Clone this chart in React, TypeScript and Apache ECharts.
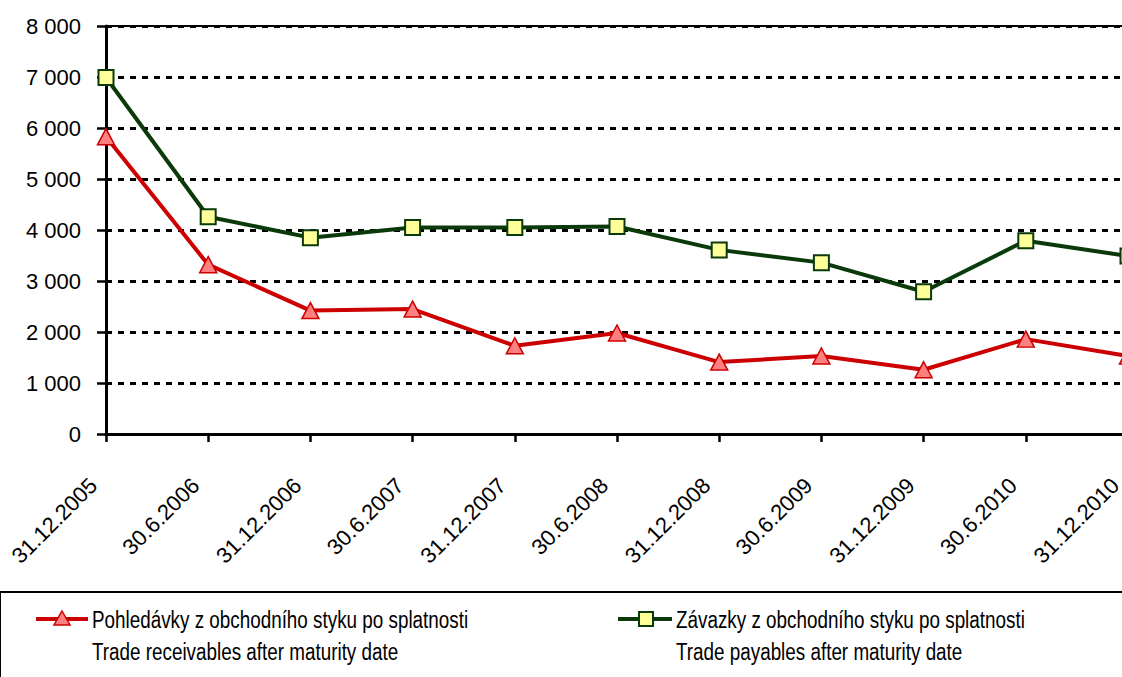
import React, { useEffect, useRef } from "react";
import * as echarts from "echarts";

const categories = [
  "31.12.2005", "30.6.2006", "31.12.2006", "30.6.2007", "31.12.2007", "30.6.2008",
  "31.12.2008", "30.6.2009", "31.12.2009", "30.6.2010", "31.12.2010",
];
const receivables = [5830, 3320, 2420, 2450, 1730, 1980, 1410, 1530, 1260, 1860, 1530];
const payables = [6990, 4260, 3850, 4050, 4050, 4070, 3610, 3360, 2790, 3790, 3490];
const receivablesName = ["Pohledávky z obchodního styku po splatnosti", "Trade receivables after maturity date"];
const payablesName = ["Závazky z obchodního styku po splatnosti", "Trade payables after maturity date"];

const FONT = "'Liberation Sans', Arial, sans-serif";
const RED = "#CC0000";
const GREEN = "#0A3A0A";

const fmt = (v: number) => {
  const s = String(Math.round(v));
  return s.replace(/\B(?=(\d{3})+(?!\d))/g, " ");
};

const legendText = (text: string, x: number, y: number) => ({
  type: "text",
  x,
  y,
  scaleX: 0.82,
  style: { text, font: `23px ${FONT}`, fill: "#000", verticalAlign: "middle" },
});

export default function App() {
  const ref = useRef<HTMLDivElement>(null);
  useEffect(() => {
    if (!ref.current) return;
    document.body.style.overflow = "hidden";
    document.documentElement.style.overflow = "hidden";
    const chart = echarts.init(ref.current, null, { renderer: "svg" });
    chart.setOption({
      animation: false,
      backgroundColor: "#fff",
      grid: { left: 106, top: 26, bottom: 243, right: 6, show: true, borderColor: "#000", borderWidth: 2 },
      xAxis: {
        type: "category",
        data: categories,
        boundaryGap: false,
        axisLine: { lineStyle: { color: "#000", width: 3 } },
        axisTick: { show: true, length: 8, alignWithLabel: true, lineStyle: { color: "#000", width: 2.5 } },
        axisLabel: {
          rotate: 45, color: "#000", fontFamily: FONT, fontSize: 22, margin: 35, interval: 0,
          padding: [0, 18, 0, 0],
        },
      },
      yAxis: {
        type: "value",
        min: 0,
        max: 8000,
        interval: 1000,
        axisLine: { show: true, lineStyle: { color: "#000", width: 3 } },
        axisTick: { show: true, length: 9, lineStyle: { color: "#000", width: 2.5 } },
        axisLabel: { color: "#000", fontFamily: FONT, fontSize: 22, margin: 25, formatter: fmt },
        splitLine: { show: true, lineStyle: { color: "#000", width: 3, type: [6, 6] } },
      },
      series: [
        {
          name: receivablesName.join(" / "),
          type: "line",
          data: receivables,
          lineStyle: { color: RED, width: 4 },
          itemStyle: { color: "#FF8080", borderColor: RED, borderWidth: 1.5 },
          symbol: "triangle",
          symbolSize: [17, 16],
          showAllSymbol: true,
        },
        {
          name: payablesName.join(" / "),
          type: "line",
          data: payables,
          lineStyle: { color: GREEN, width: 4 },
          itemStyle: { color: "#FFFF99", borderColor: GREEN, borderWidth: 2 },
          symbol: "rect",
          symbolSize: 15,
          showAllSymbol: true,
        },
      ],
      graphic: [
        { type: "rect", shape: { x: 0, y: 592, width: 1140, height: 100 }, style: { fill: "#fff", stroke: "#000", lineWidth: 2 } },
        { type: "line", shape: { x1: 36, y1: 619, x2: 88, y2: 619 }, style: { stroke: RED, lineWidth: 4 } },
        { type: "polygon", shape: { points: [[62, 611], [70, 625], [54, 625]] }, style: { fill: "#FF8080", stroke: RED, lineWidth: 1.5 } },
        legendText(receivablesName[0], 92, 620),
        legendText(receivablesName[1], 92, 652),
        { type: "line", shape: { x1: 618, y1: 619, x2: 672, y2: 619 }, style: { stroke: GREEN, lineWidth: 4 } },
        { type: "rect", shape: { x: 639, y: 612, width: 14, height: 14 }, style: { fill: "#FFFF99", stroke: GREEN, lineWidth: 2 } },
        legendText(payablesName[0], 676, 620),
        legendText(payablesName[1], 676, 652),
      ],
    });
    return () => chart.dispose();
  }, []);
  return (
    <div
      ref={ref}
      style={{ position: "fixed", left: 0, top: 0, width: 1134, height: 677 }}
    />
  );
}
